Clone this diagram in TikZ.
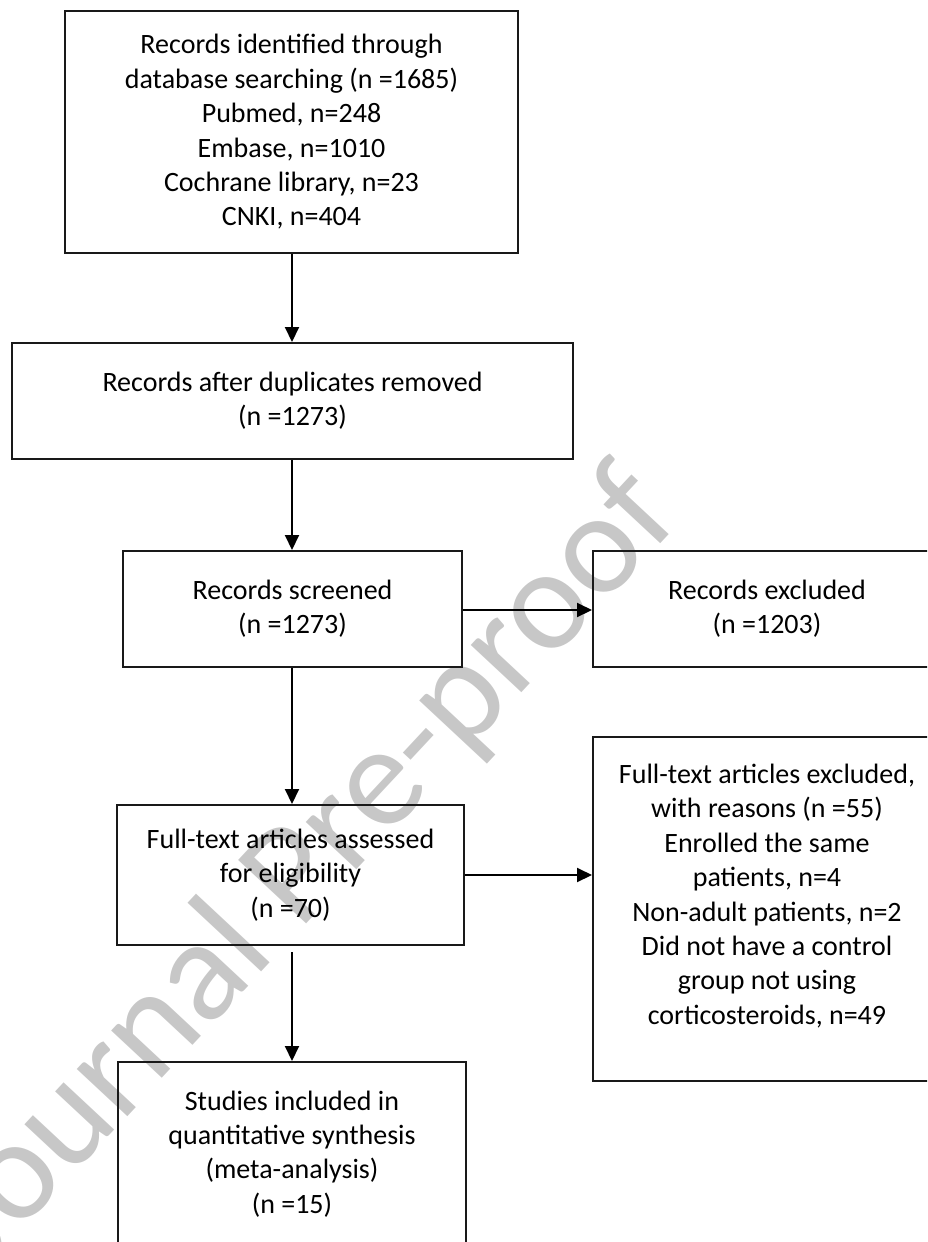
\documentclass[tikz,border=0pt]{standalone}
\usepackage{fontspec}
\setmainfont{Carlito}
\usetikzlibrary{arrows.meta,calc}
\begin{document}
\begin{tikzpicture}[x=1pt,y=-1pt,
  box/.style={draw=black!90, line width=2pt, rectangle, inner sep=0pt, align=center,
    font=\fontsize{28}{34.4}\selectfont},
  txt/.style={align=center, font=\fontsize{28}{34.4}\selectfont, inner sep=0pt},
  arr/.style={line width=2pt, -{Triangle[length=15pt,width=14pt]}},
  wm/.style={text=black!22, font=\fontsize{145}{145}\selectfont, rotate=47, inner sep=0pt}]
\useasboundingbox (0,0) rectangle (927,1242);
\clip (0,0) rectangle (927,1242);
% watermark
\node[wm] (wmark) at (306,868) {Journal Pre-proof};
% boxes
\node[box, minimum width=453, minimum height=242] (b1) at (291.5,132)
  {Records identified through\\database searching (n =1685)\\Pubmed, n=248\\Embase, n=1010\\Cochrane library, n=23\\CNKI, n=404};
\node[box, minimum width=561, minimum height=116] (b2) at (292.5,401)
  {Records after duplicates removed\\(n =1273)};
\node[box, minimum width=339, minimum height=116] (b3) at (292.5,609)
  {Records screened\\(n =1273)};
\node[box, minimum width=348, minimum height=116] (b4) at (767,609)
  {Records excluded\\(n =1203)};
\node[box, minimum width=347, minimum height=140] (b5) at (290.5,875)
  {Full-text articles assessed\\for eligibility\\(n =70)};
\node[box, minimum width=348, minimum height=344] (b6) at (767,909) {};
\node[txt] (b6t) at (767,896)
  {Full-text articles excluded,\\with reasons (n =55)\\Enrolled the same\\patients, n=4\\Non-adult patients, n=2\\Did not have a control\\group not using\\corticosteroids, n=49};
\node[box, minimum width=348, minimum height=184] (b7) at (292,1154)
  {Studies included in\\quantitative synthesis\\(meta-analysis)\\(n =15)};
% connectors
\coordinate (x0) at (292,0);
\draw[arr] (b1.south -| x0) -- (b2.north -| x0);
\draw[arr] (b2.south -| x0) -- (b3.north -| x0);
\draw[arr] (b3.east |- 0,610) -- (b4.west |- 0,610);
\draw[arr] (b3.south -| x0) -- (b5.north -| x0);
\draw[arr] (b5.east |- 0,875) -- (b6.west |- 0,875);
\draw[arr] ($(b5.south -| x0)+(0,6)$) -- (b7.north -| x0);
\end{tikzpicture}
\end{document}
